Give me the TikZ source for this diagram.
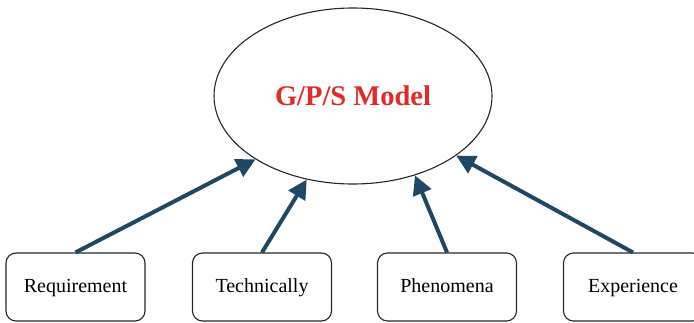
\documentclass[tikz,border=0pt]{standalone}
\usepackage{fontspec}
\setmainfont{Liberation Serif}
\usetikzlibrary{shapes.geometric,arrows.meta}
\definecolor{arrowblue}{RGB}{30,72,100}
\definecolor{titlered}{RGB}{226,42,38}
\tikzset{
  factor/.style={draw=black!85, line width=1.1pt, rounded corners=10pt, minimum width=139pt, minimum height=68pt, inner sep=0pt, text height=14pt, text depth=4pt, font=\fontsize{20}{23}\selectfont},
  modelnode/.style={draw=black!85, line width=1.1pt, ellipse, minimum width=278pt, minimum height=176pt, inner sep=0pt, font=\fontsize{28.5}{32}\selectfont\bfseries, text=titlered},
  link/.style={draw=arrowblue, line width=4pt, -{Triangle[length=19pt,width=19pt]}}
}
\begin{document}
\begin{tikzpicture}[x=1pt,y=-1pt]
\useasboundingbox (0,0) rectangle (694,322);
\clip (0,0) rectangle (694,322);
\node[modelnode] (gps) at (353,96) {G/P/S Model};
\node[factor] (req) at (75.5,287) {Requirement};
\node[factor] (tec) at (262,287) {Technically};
\node[factor] (phe) at (447,287) {Phenomena};
\node[factor] (exp) at (633,287) {Experience};
\draw[link] (req.north) -- (gps.213);
\draw[link] (tec.north) -- (gps.241);
\draw[link] (phe.north) -- (gps.308);
\draw[link] (exp.north) -- (gps.330);
\end{tikzpicture}
\end{document}
